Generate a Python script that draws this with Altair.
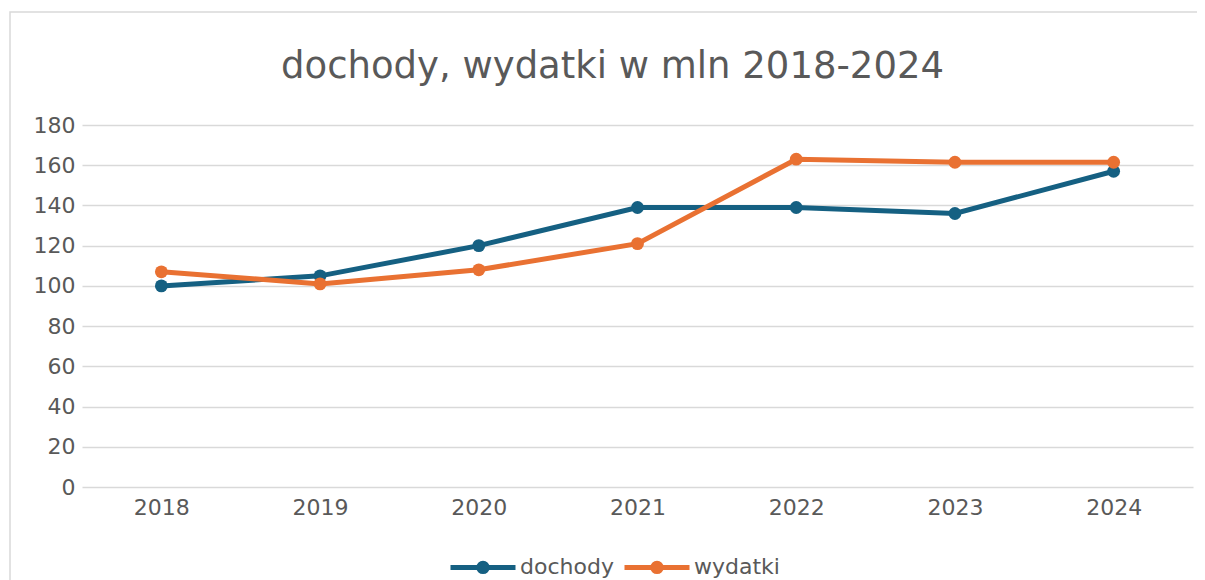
import altair as alt
import pandas as pd

years = ["2018", "2019", "2020", "2021", "2022", "2023", "2024"]
dochody = [100, 105, 120, 139, 139, 136, 157]
wydatki = [107, 101, 108, 121, 163, 161.5, 161.5]
series_names = ["dochody", "wydatki"]
colors = ["#156082", "#E97132"]
y_ticks = [0, 20, 40, 60, 80, 100, 120, 140, 160, 180]
title_text = "dochody, wydatki w mln 2018-2024"

rows = []
for name, vals in zip(series_names, [dochody, wydatki]):
    for yr, v in zip(years, vals):
        rows.append({"rok": yr, "seria": name, "wartosc": v})
df = pd.DataFrame(rows)

FONT = "DejaVu Sans"
TEXT = "#595959"
GRID = "#D9D9D9"

x = alt.X("rok:O", title=None, sort=years,
          scale=alt.Scale(type="point", padding=0.5),
          axis=alt.Axis(labelAngle=0, ticks=False, domain=False, grid=False,
                        labelFontSize=22, labelColor=TEXT, labelFont=FONT,
                        labelPadding=10))
y = alt.Y("wartosc:Q", title=None,
          scale=alt.Scale(domain=[0, 180], nice=False, zero=True),
          axis=alt.Axis(values=y_ticks, ticks=False, domain=False, grid=True,
                        gridColor=GRID, gridWidth=1.5,
                        labelFontSize=22, labelColor=TEXT, labelFont=FONT,
                        labelPadding=7))

legend = alt.Legend(
    title=None, orient="none", direction="horizontal",
    legendX=366, legendY=407, padding=0,
    symbolType="M-1,0H1M-0.13,0A0.13,0.13 0 1,0 0.13,0A0.13,0.13 0 1,0 -0.13,0Z",
    symbolSize=4225, symbolStrokeWidth=5,
    labelFontSize=22, labelFont=FONT, labelColor=TEXT, labelOffset=2,
    columnPadding=0,
)

scale = alt.Scale(domain=series_names, range=colors)

border = alt.Chart(alt.Data(values=[{"a": 1}])).mark_rect(
    fillOpacity=0, stroke=GRID, strokeWidth=1.5
).encode(
    x=alt.value(-72), x2=alt.value(1200), y=alt.value(-113), y2=alt.value(600)
)

lines = alt.Chart(df).mark_line(strokeWidth=5).encode(
    x=x, y=y,
    stroke=alt.Stroke("seria:N", scale=scale, legend=legend),
    detail="seria:N",
)

points = alt.Chart(df).mark_circle(size=165, opacity=1).encode(
    x=x, y=y,
    fill=alt.Fill("seria:N", scale=scale, legend=legend),
)

chart = alt.layer(border, lines, points).properties(
    width=1111, height=362,
    autosize="none",
    padding={"left": 74, "top": 117, "right": 4, "bottom": 93},
    title=alt.TitleParams(title_text, fontSize=37, font=FONT, color=TEXT,
                          fontWeight="normal", anchor="middle", dx=-25,
                          baseline="bottom", offset=-112),
    background="white",
).configure_view(strokeWidth=0)

chart.save("out.html", embed_options={"renderer": "svg", "actions": False})
